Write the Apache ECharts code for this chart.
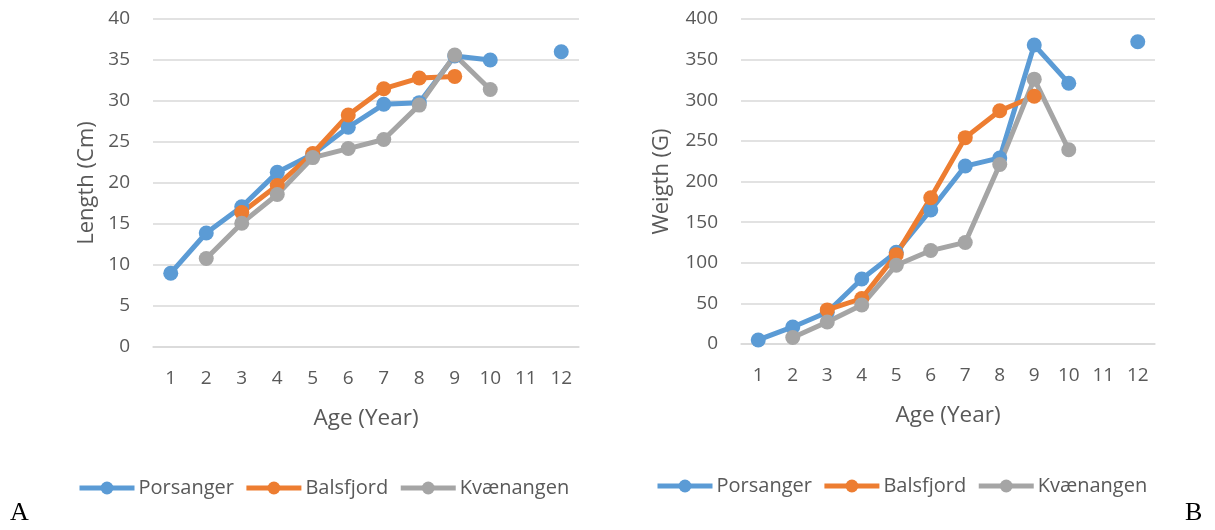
<!DOCTYPE html>
<html>
<head>
<meta charset="utf-8">
<script src="https://cdn.jsdelivr.net/npm/echarts@6/dist/echarts.min.js"></script>
<style>
html,body{margin:0;padding:0;background:#fff;}
#c{width:1215px;height:530px;}
</style>
</head>
<body>
<div id="c"></div>
<script>
const ages = ['1','2','3','4','5','6','7','8','9','10','11','12'];
const seriesNames = ['Porsanger','Balsfjord','Kvænangen'];
const lengthPorsanger = [9.0, 13.9, 17.1, 21.3, 23.5, 26.8, 29.6, 29.8, 35.5, 35.0, null, 36.0];
const lengthBalsfjord = [null, null, 16.4, 19.7, 23.6, 28.3, 31.5, 32.8, 33.0, null, null, null];
const lengthKvaenangen = [null, 10.8, 15.1, 18.6, 23.1, 24.2, 25.3, 29.5, 35.6, 31.4, null, null];
const weightPorsanger = [5, 21, 39, 80, 113, 165, 219, 229, 368, 321, null, 372];
const weightBalsfjord = [null, null, 42, 56, 110, 180, 254, 287, 305, null, null, null];
const weightKvaenangen = [null, 8, 27, 48, 97, 115, 125, 221, 326, 239, null, null];
const lengthTicks = {min: 0, max: 40, interval: 5};
const weightTicks = {min: 0, max: 400, interval: 50};

const colors = ['#5B9BD5', '#ED7D31', '#A5A5A5'];
const FONT = 'Open Sans';
const TXT = '#595959';
const GRID = '#D9D9D9';

function xAxis(gridIndex){
  return {
    type: 'category', gridIndex, data: ages, boundaryGap: true,
    axisLine: {show: true, lineStyle: {color: GRID, width: 1.5}},
    axisTick: {show: false},
    axisLabel: {color: TXT, fontFamily: FONT, fontSize: 19, margin: 22, interval: 0},
    name: 'Age (Year)', nameLocation: 'middle', nameGap: 60,
    nameTextStyle: {color: TXT, fontFamily: FONT, fontSize: 22.5}
  };
}
function yAxis(gridIndex, ticks, name, gap){
  return {
    type: 'value', gridIndex, min: ticks.min, max: ticks.max, interval: ticks.interval,
    axisLine: {show: false}, axisTick: {show: false},
    splitLine: {lineStyle: {color: GRID, width: 1.5}},
    axisLabel: {color: TXT, fontFamily: FONT, fontSize: 19, margin: 23},
    name, nameLocation: 'middle', nameGap: gap,
    nameTextStyle: {color: TXT, fontFamily: FONT, fontSize: 22}
  };
}
function line(name, data, idx, axisIdx){
  return {
    name, type: 'line', data, xAxisIndex: axisIdx, yAxisIndex: axisIdx,
    symbol: 'circle', symbolSize: 15, connectNulls: false,
    lineStyle: {width: 5, color: colors[idx]},
    itemStyle: {color: colors[idx]},
    emphasis: {disabled: true}, animation: false
  };
}
const legendCommon = {
  data: seriesNames, itemWidth: 55, itemHeight: 16, itemGap: 10,
  lineStyle: {width: 5},
  textStyle: {color: TXT, fontFamily: FONT, fontSize: 20, padding: [0,0,0,-1]}
};

const chart = echarts.init(document.getElementById('c'));
chart.setOption({
  animation: false,
  grid: [
    {left: 153, top: 19, width: 426, height: 328},
    {left: 741, top: 19, width: 414, height: 325}
  ],
  xAxis: [xAxis(0), xAxis(1)],
  yAxis: [yAxis(0, lengthTicks, 'Length (Cm)', 55), yAxis(1, weightTicks, 'Weigth (G)', 68)],
  legend: [
    Object.assign({left: 72, top: 473}, legendCommon),
    Object.assign({left: 650, top: 471}, legendCommon)
  ],
  graphic: [
    {type: 'text', left: 10, top: 500, style: {text: 'A', font: '26px "Liberation Serif"', fill: '#000'}},
    {type: 'text', left: 1185, top: 500, style: {text: 'B', font: '26px "Liberation Serif"', fill: '#000'}}
  ],
  series: [
    line('Porsanger', lengthPorsanger, 0, 0),
    line('Balsfjord', lengthBalsfjord, 1, 0),
    line('Kvænangen', lengthKvaenangen, 2, 0),
    line('Porsanger', weightPorsanger, 0, 1),
    line('Balsfjord', weightBalsfjord, 1, 1),
    line('Kvænangen', weightKvaenangen, 2, 1)
  ]
});
</script>
</body>
</html>
